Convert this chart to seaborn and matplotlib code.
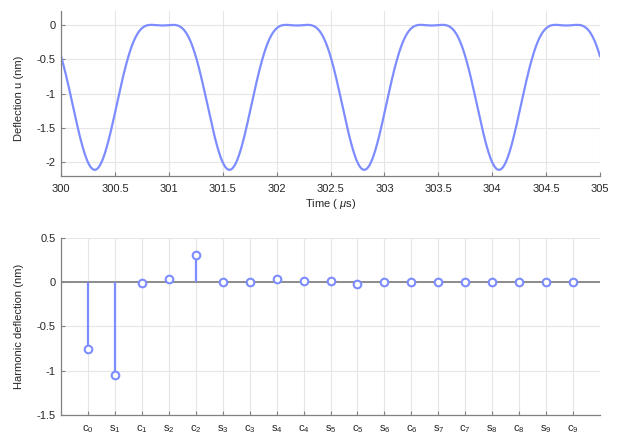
import numpy as np
import pandas as pd
import matplotlib
matplotlib.use("Agg")
import matplotlib.pyplot as plt
import seaborn as sns

# Harmonic coefficients of the deflection signal (nm)
harmonic_labels = ["c0", "s1", "c1", "s2", "c2", "s3", "c3", "s4", "c4", "s5",
                   "c5", "s6", "c6", "s7", "c7", "s8", "c8", "s9", "c9"]
harmonic_values = [-0.76, -1.05, -0.01, 0.03, 0.30, 0.00, 0.00, 0.03, 0.01, 0.01,
                   -0.02, 0.005, 0.00, 0.00, 0.00, 0.00, 0.00, 0.00, 0.00]

# Drive frequency (MHz), time window (us), and the amplitude threshold (nm)
# above which a harmonic enters the time trace
drive_freq = 0.8
t_start, t_end = 300.0, 305.0
trace_threshold = 0.1

line_color = "#7d8dff"
text_color = "#262626"
axis_color = "#808080"

sns.set_theme(style="white")
plt.rcParams["font.family"] = ["Liberation Sans", "DejaVu Sans"]
plt.rcParams["axes.unicode_minus"] = False
plt.rcParams["mathtext.fontset"] = "custom"
plt.rcParams["mathtext.rm"] = "Liberation Sans"
plt.rcParams["mathtext.it"] = "Liberation Sans:italic"

# Time trace rebuilt from the dominant harmonics
t = np.linspace(t_start, t_end, 1500)
omega = 2 * np.pi * drive_freq
u = np.zeros_like(t)
for lab, val in zip(harmonic_labels, harmonic_values):
    if abs(val) < trace_threshold:
        continue
    n = int(lab[1:])
    phase = n * omega * (t - t_start)
    u += val * (np.sin(phase) if lab[0] == "s" else np.cos(phase))
wave = pd.DataFrame({"t": t, "u": u})

fig = plt.figure(figsize=(6.17, 4.34), dpi=100)
ax1 = fig.add_axes([0.0989, 0.5945, 0.8736, 0.380])
ax2 = fig.add_axes([0.0989, 0.0438, 0.8736, 0.4086])


def style_axes(ax):
    ax.grid(True, color="#e6e6e6", linewidth=0.8)
    ax.set_axisbelow(True)
    for side in ("top", "right"):
        ax.spines[side].set_visible(False)
    for side in ("left", "bottom"):
        ax.spines[side].set_color(axis_color)
        ax.spines[side].set_linewidth(0.9)
    ax.tick_params(direction="in", length=3, width=0.8, color=axis_color,
                   labelsize=8, labelcolor=text_color, pad=4,
                   bottom=True, left=True)


# Top: deflection over time
sns.lineplot(data=wave, x="t", y="u", ax=ax1, color=line_color, linewidth=1.6)
ax1.set_xlim(t_start, t_end)
ax1.set_ylim(-2.2, 0.2)
xt = np.arange(300, 305.01, 0.5)
ax1.set_xticks(xt)
ax1.set_xticklabels([f"{v:g}" for v in xt])
yt = [0, -0.5, -1, -1.5, -2]
ax1.set_yticks(yt)
ax1.set_yticklabels([f"{v:g}" for v in yt])
ax1.set_xlabel("Time ( $\\mu$s)", fontsize=8, color=text_color, labelpad=2)
ax1.set_ylabel("Deflection u (nm)", fontsize=8, color=text_color, labelpad=3)
style_axes(ax1)
ax1.tick_params(axis="x", pad=6)
ax1.yaxis.set_label_coords(-0.068, 0.47)

# Bottom: harmonic amplitudes as stems
pos = np.arange(1, len(harmonic_labels) + 1)
harm = pd.DataFrame({"pos": pos, "value": harmonic_values})
ax2.axhline(0, color="#8c8c8c", linewidth=1.4, zorder=2)
ax2.vlines(harm["pos"], 0, harm["value"], color=line_color, linewidth=1.6, zorder=3)
sns.scatterplot(data=harm, x="pos", y="value", ax=ax2, marker="o", s=30,
                facecolor="white", edgecolor=line_color, linewidth=1.5, zorder=4)
ax2.set_xlim(0, len(harmonic_labels) + 1)
ax2.set_ylim(-1.5, 0.5)
ax2.set_xticks(pos)
ax2.set_xticklabels([f"$\\mathregular{{{lab[0]}_{{{lab[1:]}}}}}$" for lab in harmonic_labels])
yt2 = [0.5, 0, -0.5, -1, -1.5]
ax2.set_yticks(yt2)
ax2.set_yticklabels([f"{v:g}" for v in yt2])
ax2.set_xlabel("")
ax2.set_ylabel("Harmonic deflection (nm)", fontsize=8, color=text_color, labelpad=3)
style_axes(ax2)
ax2.tick_params(axis="x", pad=6)
ax2.yaxis.set_label_coords(-0.068, 0.5)

fig.savefig("out.png", dpi=100)
